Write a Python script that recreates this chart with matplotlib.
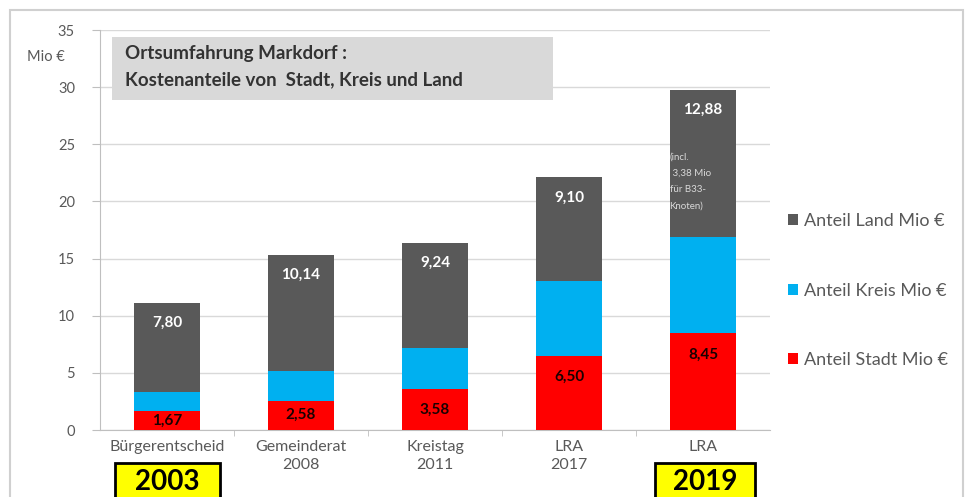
import matplotlib
matplotlib.use('Agg')
import matplotlib.pyplot as plt
from matplotlib.patches import Rectangle

plt.rcParams['font.family'] = ['Lato', 'DejaVu Sans']

# Daten
categories = ['Bürgerentscheid', 'Gemeinderat\n2008', 'Kreistag\n2011', 'LRA\n2017', 'LRA']
stadt = [1.67, 2.58, 3.58, 6.50, 8.45]
kreis = [1.67, 2.58, 3.58, 6.50, 8.45]
land = [7.80, 10.14, 9.24, 9.10, 12.88]
land_labels = ['7,80', '10,14', '9,24', '9,10', '12,88']
stadt_labels = ['1,67', '2,58', '3,58', '6,50', '8,45']
yticks = [0, 5, 10, 15, 20, 25, 30, 35]

c_land = '#595959'
c_kreis = '#00B0F0'
c_stadt = '#FF0000'
txt = '#595959'

fig = plt.figure(figsize=(9.73, 4.97), dpi=100)
ax = fig.add_axes([100/973, 1-430/497, 670/973, 400/497])

x = range(len(categories))
w = 0.49
b_stadt = ax.bar(x, stadt, w, color=c_stadt, label='Anteil Stadt Mio €', zorder=3)
b_kreis = ax.bar(x, kreis, w, bottom=stadt, color=c_kreis, label='Anteil Kreis Mio €', zorder=3)
bottom3 = [s + k for s, k in zip(stadt, kreis)]
b_land = ax.bar(x, land, w, bottom=bottom3, color=c_land, label='Anteil Land Mio €', zorder=3)

# Werte
for i in x:
    top = bottom3[i] + land[i]
    ax.text(i, top - 1.75, land_labels[i], ha='center', va='center', color='white',
            fontsize=11, fontweight='bold', zorder=4)
    ys = max(stadt[i] - 1.85, stadt[i] / 2)
    ax.text(i, ys, stadt_labels[i], ha='center', va='center', color='#1a0000',
            fontsize=11, fontweight='bold', zorder=4)

ax.text(4 - 0.25, 24.3, '(incl.\n 3,38 Mio\nfür B33-\nKnoten)', ha='left', va='top',
        color='#d9d9d9', fontsize=7, linespacing=2.05, zorder=4)

ax.set_xlim(-0.5, 4.5)
ax.set_ylim(0, 35)
ax.set_yticks(yticks)
ax.set_xticks(list(x))
ax.set_xticklabels(categories, color=txt, fontsize=11.5, linespacing=1.35)
ax.set_xticks([0.5, 1.5, 2.5, 3.5], minor=True)
ax.tick_params(axis='x', which='major', length=0, pad=7)
ax.tick_params(axis='x', which='minor', length=4, color='#bfbfbf')
ax.tick_params(axis='y', length=6, color='#bfbfbf', labelcolor=txt, labelsize=10.5, pad=12)
ax.grid(axis='y', color='#d9d9d9', linewidth=1, zorder=0)
for s in ['top', 'right']:
    ax.spines[s].set_visible(False)
ax.spines['left'].set_color('#bfbfbf')
ax.spines['bottom'].set_color('#bfbfbf')

fig.text(46/973, 1-57/497, 'Mio €', ha='center', va='center', color=txt, fontsize=10.5)

# Legende
handles = [b_land, b_kreis, b_stadt]
fig.legend(handles, [h.get_label() for h in handles], loc='upper left',
           bbox_to_anchor=(772/973, 1-197/497), frameon=False, fontsize=13,
           labelcolor=txt, handlelength=0.55, handleheight=0.55, handletextpad=0.3,
           labelspacing=2.95)

# Titelbox
fig.patches.append(Rectangle((112/973, 1-100/497), 441/973, 63/497, transform=fig.transFigure,
                             facecolor='#d9d9d9', edgecolor='none', zorder=5))
fig.text(125/973, 1-54/497, 'Ortsumfahrung Markdorf :', ha='left', va='center',
         fontsize=13.5, fontweight='bold', color='#333333', zorder=6)
fig.text(125/973, 1-80/497, 'Kostenanteile von  Stadt, Kreis und Land', ha='left', va='center',
         fontsize=13.5, fontweight='bold', color='#333333', zorder=6)

# Jahresboxen
for x0, x1, label in [(115, 220, '2003'), (655, 755, '2019')]:
    fig.patches.append(Rectangle((x0/973, -0.05), (x1-x0)/973, 0.05 + 34/497,
                                 transform=fig.transFigure, facecolor='#ffff00',
                                 edgecolor='black', linewidth=2, zorder=5))
    fig.text((x0+x1)/2/973, 1-482/497, label, ha='center', va='center', fontsize=20,
             fontweight='bold', color='black', zorder=6)

# Rahmen
fig.patches.append(Rectangle((10/973, -0.05), 953/973, 0.05 + 487/497, transform=fig.transFigure,
                             facecolor='none', edgecolor='#d0d0d0', linewidth=1.5, zorder=1))

fig.savefig('out.png', dpi=100)
